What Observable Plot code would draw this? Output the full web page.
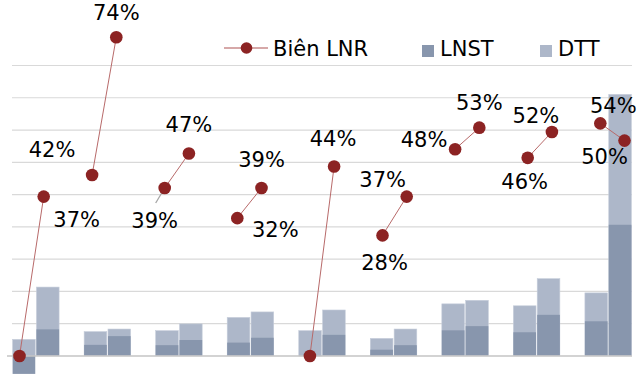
<!DOCTYPE html>
<html>
<head>
<meta charset="utf-8">
<script src="https://cdn.jsdelivr.net/npm/d3@7"></script>
<script src="https://cdn.jsdelivr.net/npm/@observablehq/plot@0.6"></script>
<style>
  body { margin: 0; background: #fff; font-family: "DejaVu Sans", sans-serif; }
  #chart { position: relative; width: 640px; height: 375px; overflow: hidden; }
  .lg { position: absolute; font-size: 21px; line-height: 21px; color: #000; white-space: nowrap; }
  .sw { position: absolute; width: 12px; height: 12px; }
</style>
</head>
<body>
<div id="chart"></div>
<script>
// ---- Data (9 pairs of periods; each pair drawn as its own segment) ----
const seriesNames = ["Biên LNR", "LNST", "DTT"];
const dtt     = [50, 212, 74, 82, 77, 98, 118, 135, 77, 141, 53, 82, 160, 171, 154, 238, 194, 809];
const lnst    = [-57, 81, 33, 60, 32, 48, 40, 55, -2, 64, 18, 32, 78, 91, 72, 126, 106, 405];
const bienLNR = [-114, 37, 42, 74, 39, 47, 32, 39, -3, 44, 28, 37, 48, 53, 46, 52, 54, 50];
const gridTicks = [100, 200, 300, 400, 500, 600, 700, 800, 900];

// ---- Styling / layout constants ----
const W = 640, H = 375;
const xDomain = [-0.5, 25.5], xRange = [12, 632];
const yDomain = [-60.4, 1101.3], yRange = [375, 0];
const pctToUnits = 13.346;              // secondary (margin) axis mapped onto the bar axis
const lineSlotScale = 1.01485, lineSlotShift = -0.2065; // secondary category axis offset
const labelDx = [0, 33, -40, 0, -10, 0, 38, 0, 0, -1, 2, -24, -31, 0, -3, -16, 13, -20];
const labelDy = [0, 24, -25, -24, 33, -28, 12, -28, 0, -27, 28, -16, -9, -24, 24, -16, -17, 17];
const leaders = [{i: 4, dx: -9, dy: 15}];
const C = { dtt: "#adb7c9", lnst: "#8896ad", dot: "#8c2323", line: "#b86a6a", grid: "#d9d9d9", base: "#c4c4c4" };

const pxX = (xDomain[1] - xDomain[0]) / (xRange[1] - xRange[0]);
const pxY = (yDomain[1] - yDomain[0]) / (yRange[0] - yRange[1]);

const rows = dtt.map((d, i) => {
  const g = Math.floor(i / 2), j = i % 2, slot = 3 * g + j;
  const m = bienLNR[i];
  const lx = lineSlotShift + lineSlotScale * slot;
  const ly = Math.max(0, m) * pctToUnits;
  return { i, g, slot, dtt: d, lnst: lnst[i], m, lx, ly,
           label: m > 0 ? m + "%" : null,
           tx: lx + labelDx[i] * pxX, ty: ly - labelDy[i] * pxY };
});
const labelRows = rows.filter(r => r.label);
const leaderRows = leaders.map(l => {
  const r = rows[l.i];
  return { x1: r.lx, y1: r.ly, x2: r.lx + l.dx * pxX, y2: r.ly - l.dy * pxY };
});

const chart = Plot.plot({
  width: W, height: H,
  marginTop: 0, marginBottom: 0, marginLeft: xRange[0], marginRight: W - xRange[1],
  x: { type: "linear", domain: xDomain, axis: null },
  y: { type: "linear", domain: yDomain, axis: null },
  style: { fontFamily: "DejaVu Sans, sans-serif", background: "transparent", overflow: "visible" },
  marks: [
    Plot.ruleY(gridTicks, { stroke: C.grid, strokeWidth: 1.2 }),
    Plot.rectY(rows, { x1: d => d.slot - 0.475, x2: d => d.slot + 0.475, y1: 0, y2: "dtt", fill: C.dtt, stroke: "#c7cedb", strokeWidth: 0.6 }),
    Plot.rectY(rows, { x1: d => d.slot - 0.475, x2: d => d.slot + 0.475, y1: 0, y2: "lnst", fill: C.lnst }),
    Plot.ruleY([0], { x1: -0.71, x2: 25.5, stroke: C.base, strokeWidth: 1.5 }),
    Plot.line(rows, { x: "lx", y: "ly", z: "g", stroke: C.line, strokeWidth: 1 }),
    Plot.link(leaderRows, { x1: "x1", y1: "y1", x2: "x2", y2: "y2", stroke: "#a6a6a6", strokeWidth: 1.3 }),
    Plot.dot(rows, { x: "lx", y: "ly", r: 6.3, fill: C.dot, stroke: "none" }),
    Plot.text(labelRows, { x: "tx", y: "ty", text: "label", fontSize: 21, fill: "#000", textAnchor: "middle", lineAnchor: "middle" })
  ]
});
const host = document.getElementById("chart");
host.appendChild(chart);

// ---- Legend ----
const legend = document.createElement("div");
legend.innerHTML = `
  <svg style="position:absolute;left:224px;top:41px" width="46" height="14">
    <line x1="0" y1="7" x2="44" y2="7" stroke="#d6a8a8" stroke-width="2"/>
    <circle cx="22.5" cy="7" r="5.8" fill="${C.dot}"/>
  </svg>
  <div class="lg" style="left:273px;top:39px">${seriesNames[0]}</div>
  <div class="sw" style="left:422px;top:45px;background:${C.lnst}"></div>
  <div class="lg" style="left:440px;top:39px">${seriesNames[1]}</div>
  <div class="sw" style="left:540px;top:45px;background:${C.dtt}"></div>
  <div class="lg" style="left:558px;top:39px">${seriesNames[2]}</div>`;
host.appendChild(legend);
</script>
</body>
</html>
